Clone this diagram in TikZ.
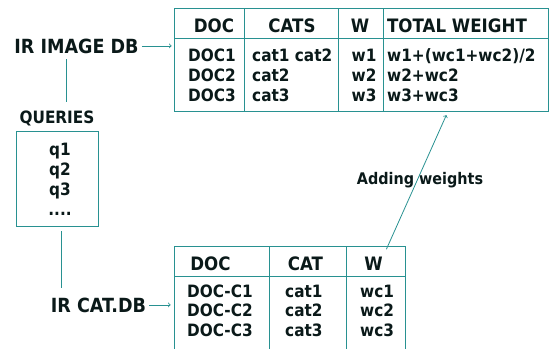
\documentclass[tikz,border=0pt]{standalone}
\usepackage{fontspec}
\setmainfont[FakeStretch=0.9]{DejaVu Sans}
\usepackage{tikz}
\usetikzlibrary{arrows}
\definecolor{tealline}{RGB}{40,145,145}
\definecolor{ink}{RGB}{10,25,25}

\begin{document}
\begin{tikzpicture}[x=1pt,y=-1pt,
  every node/.style={text=ink, inner sep=0pt, font=\bfseries\fontsize{17}{20}\selectfont},
  head/.style={font=\bfseries\fontsize{18.5}{22}\selectfont},
  big/.style={font=\bfseries\fontsize{19.5}{23}\selectfont},
  frame/.style={draw=tealline, line width=0.8pt, rectangle},
  link/.style={draw=tealline, line width=0.8pt}]

\clip (0,0) rectangle (551,348);

% left column
\node[big, anchor=base] (irimg) at (76.5,53) {IR IMAGE DB};
\node[anchor=base] (qlabel) at (57,123) {QUERIES};
\node[frame, minimum width=82pt, minimum height=95pt] (qbox) at (57,178.5) {};
\node[anchor=base] (q1) at (60,155) {q1};
\node[anchor=base] (q2) at (60,175) {q2};
\node[anchor=base] (q3) at (60,195) {q3};
\node[anchor=base] (q4) at (60,215) {....};
\node[big, anchor=base] (ircat) at (98.5,312) {IR CAT.DB};

% image db table
\node[frame, minimum width=374pt, minimum height=103pt] (imgtab) at (361,59.5) {};
\draw[link] (174,38) -- (548,38);
\draw[link] (244,8) -- (244,111);
\draw[link] (338,8) -- (338,111);
\draw[link] (383,8) -- (383,111);
\node[head, anchor=base] (h1) at (214,32) {DOC};
\node[head, anchor=base] (h2) at (292,32) {CATS};
\node[head, anchor=base] (h3) at (360,32) {W};
\node[head, anchor=base] (h4) at (457,32) {TOTAL WEIGHT};
\node[anchor=base west] (d1) at (188,61) {DOC1};
\node[anchor=base west] (d2) at (188,81) {DOC2};
\node[anchor=base west] (d3) at (188,101) {DOC3};
\node[anchor=base west] (c1) at (252,61) {cat1 cat2};
\node[anchor=base west] (c2) at (252,81) {cat2};
\node[anchor=base west] (c3) at (252,101) {cat3};
\node[anchor=base] (w1) at (364,61) {w1};
\node[anchor=base] (w2) at (364,81) {w2};
\node[anchor=base] (w3) at (364,101) {w3};
\node[anchor=base west] (t1) at (387,61) {w1+(wc1+wc2)/2};
\node[anchor=base west] (t2) at (387,81) {w2+wc2};
\node[anchor=base west] (t3) at (387,101) {w3+wc3};

% cat db table
\node[frame, minimum width=231pt, minimum height=124pt] (cattab) at (289.5,308) {};
\draw[link] (174,276) -- (405,276);
\draw[link] (269,246) -- (269,370);
\draw[link] (346,246) -- (346,370);
\node[head, anchor=base] (g1) at (210.5,270) {DOC};
\node[head, anchor=base] (g2) at (305.5,270) {CAT};
\node[head, anchor=base] (g3) at (373.5,270) {W};
\node[anchor=base west] (e1) at (187,297) {DOC-C1};
\node[anchor=base west] (e2) at (187,316) {DOC-C2};
\node[anchor=base west] (e3) at (187,336) {DOC-C3};
\node[anchor=base west] (f1) at (285,297) {cat1};
\node[anchor=base west] (f2) at (285,316) {cat2};
\node[anchor=base west] (f3) at (285,336) {cat3};
\node[anchor=base west] (k1) at (360,297) {wc1};
\node[anchor=base west] (k2) at (360,316) {wc2};
\node[anchor=base west] (k3) at (360,336) {wc3};

\node[font=\bfseries\fontsize{16}{19}\selectfont, anchor=base] (addw) at (420,184.5) {Adding weights};

% connectors
\draw[link,->,shorten <=3pt,shorten >=2pt] (irimg) -- (irimg -| imgtab.west);
\draw[link,->,shorten <=3pt,shorten >=3pt] (ircat) -- (ircat -| cattab.west);
\draw[link,shorten <=6pt,shorten >=8pt] ([xshift=-10.5pt]irimg.south) -- ([xshift=-10.5pt]irimg.south |- qlabel.north);
\draw[link,shorten <=5pt,shorten >=9pt] ([xshift=4pt]qbox.south) -- ([xshift=4pt]qbox.south |- ircat.north);
\draw[link,->,shorten <=-4pt,shorten >=4pt] ([xshift=98.5pt]cattab.north) -- ([xshift=87pt]imgtab.south);
\end{tikzpicture}
\end{document}
